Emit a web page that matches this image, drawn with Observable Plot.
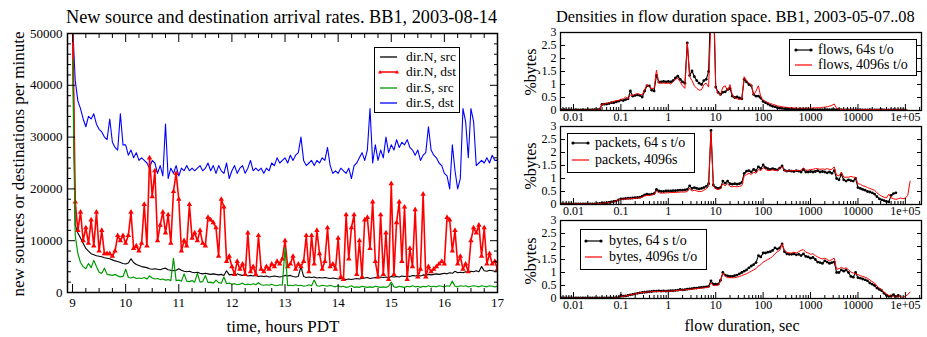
<!DOCTYPE html>
<html><head><meta charset="utf-8">
<script src="https://cdn.jsdelivr.net/npm/d3@7"></script>
<script src="https://cdn.jsdelivr.net/npm/@observablehq/plot@0.6"></script>
<style>
html,body{margin:0;padding:0;background:#fff;}
#root{position:relative;width:927px;height:337px;overflow:hidden;background:#fff;font-family:"Liberation Serif","Times New Roman",serif;color:#000;}
#root svg{position:absolute;left:0;top:0;}
.lbl{position:absolute;white-space:nowrap;line-height:1;}
.legend{position:absolute;border:1.5px solid #000;background:#fff;box-sizing:border-box;}
</style></head><body><div id="root"></div>
<script>
// ---------- Left chart data: samples every 0.05 h from 9.00 to 17.00 ----------
const hourStart = 9, hourStep = 0.05;
const dirNsrc = [
 52000,13000,11500,10500,9500,8500,8000,7500,7300,7100,7000,6900,6700,6600,6500,6300,6100,6000,5800,5600,
 5500,5700,6500,5800,5400,5200,5000,4900,4800,4600,4500,4600,4500,4400,4600,4700,4400,4300,4200,4300,
 4600,4300,4100,4000,4100,3900,3800,3900,3700,3600,3700,3600,3500,3600,3500,3400,3500,3300,4200,3400,
 3500,3300,3600,3400,3300,3400,3200,3300,3200,3300,3100,3200,3100,3200,3000,3100,3200,3100,3000,3100,
 3300,3200,3300,3100,3000,3100,5000,3100,2900,3000,2900,3000,2800,2900,2800,2900,2800,2700,2800,2700,
 2600,2700,2600,2500,2600,2500,2600,2700,2600,2700,2800,2900,2700,2800,2900,2800,3000,2900,3000,2900,
 3100,3000,3100,3000,3200,3100,3200,3100,3300,3200,3300,3200,3400,3300,3500,3400,3500,3600,3500,3600,
 3700,3600,3800,3700,4100,3800,3900,3800,4000,3900,4100,4000,4200,4000,5000,4200,4100,4300,4200,4100,
 4200];
const dirNdst = [
 55000,17500,12000,15500,10000,12500,9500,14000,9000,15500,8000,12000,7500,7500,7500,7000,8000,11000,10000,11000,
 9500,11000,15500,8500,9000,8000,9500,17000,9000,26000,18500,23500,10000,13000,15500,11500,15000,9500,19500,23000,
 18000,8000,10000,9000,17000,10500,11500,10000,12000,9500,9000,14500,14000,13500,12500,7000,18000,16500,6000,7000,
 5000,3500,6000,4500,5500,3500,11500,4000,5000,3500,11000,4500,4000,5000,4500,5500,5000,6000,5500,6500,
 10000,5000,5500,7000,4500,5500,5000,6000,11000,4000,11000,5500,12000,7500,4500,6000,12500,5000,5500,4500,
 10500,3000,2500,15000,6500,12500,15000,3500,10000,3000,14000,14500,8500,17500,6000,3000,15000,3500,11500,2500,
 21000,3500,13500,17500,6000,16500,2500,8500,5000,16000,3000,4500,19000,3000,5000,4000,4500,5000,5500,6000,
 5500,14500,14000,8000,12000,5500,7000,4500,5500,4000,10000,12500,11500,13000,7000,12500,5500,7500,5500,6000,
 4500];
const dirSsrc = [
 45000,11000,7500,5800,5000,4600,5600,4800,6200,5000,3900,3700,4700,3500,3400,3300,3500,3200,3000,3100,
 4500,2900,2800,3000,2700,2800,2700,2900,2600,3200,2800,2600,2700,2500,2600,2400,2500,2300,6600,2300,
 2400,2200,3600,2200,2100,2300,2000,3700,2000,2100,3300,1900,2000,1800,2400,1900,1800,3000,1700,1800,
 1600,1700,1500,1600,1800,1500,1600,1500,1700,1500,1900,1500,1400,1500,1400,1600,1400,1300,1500,1400,
 8600,1300,1400,1300,1500,1300,1400,1200,1300,1500,1300,2400,1300,1200,1400,1300,1200,1400,1200,1100,
 1300,1100,1200,1000,1100,1300,1000,1100,1000,1200,1100,1000,1100,1000,1200,1100,1000,1100,1000,1200,
 2000,1100,1000,1200,1100,1000,1200,1100,1300,1100,1200,1000,1200,1100,1300,1100,1200,1100,1300,1200,
 1100,1300,1200,2200,1200,1100,1300,1200,1300,1100,1200,1300,1200,1100,1300,1200,1100,1300,1200,1100,
 1200];
const dirSdst = [
 52000,41000,37000,35500,33500,32000,34000,33500,34500,32500,31500,31000,30000,29500,33500,29000,28000,27500,34500,28500,
 28500,26500,27500,26000,27000,25500,26000,25500,25000,24000,25500,25000,23000,24500,22500,32500,22000,24000,23000,24500,
 22500,24000,23500,24500,23500,24000,23500,24000,24500,23500,24000,25000,23500,24500,23000,24500,23500,23000,25000,22000,
 23500,24500,23000,24000,24500,23000,24000,25500,23500,24000,23500,24000,23000,24000,23500,25000,24500,26000,25000,25500,
 26000,25000,26500,25500,26500,27000,30000,25500,24500,25000,25500,24500,25500,25000,26000,25500,28000,24500,23000,23500,
 23000,24000,23500,23000,24000,22000,24500,25000,26000,27000,25500,27500,35500,25000,28500,25500,27500,26000,30000,27000,
 28500,27500,29500,28000,29000,28500,29500,28000,27500,26500,27500,25500,26500,27000,32000,27500,26500,26000,25000,24500,
 23000,22500,20000,28500,23500,20000,22000,35500,33000,26000,35500,33000,24500,25000,25500,25000,26000,25000,26500,25500,
 25500];
const hourTicks = [9,10,11,12,13,14,15,16,17];
const rateTicks = [0,10000,20000,30000,40000,50000];
const leftSeries = ["dir.N, src","dir.N, dst","dir.S, src","dir.S, dst"];

// ---------- Right panels: log10(duration) from -2.30 in steps of 0.05 ----------
const logDurStart = -2.3, logDurStep = 0.05;
const flows64 = [
 0.02,0.02,0.03,0.02,0.02,0.02,
 0.02,0.03,0.02,0.02,0.03,0.02,0.03,0.02,0.03,0.03,0.03,0.05,0.23,0.24,0.25,0.27,0.3,0.3,0.33,0.36,
 0.4,0.38,0.42,0.45,0.75,0.55,0.58,0.6,0.58,0.52,0.75,0.95,0.95,0.78,0.75,1.35,1.1,1.1,1.12,1.1,
 1.12,1.1,1.15,1.25,1.32,1.2,1.1,1.05,2.6,1.35,1.52,1.3,1.15,1.05,1.0,1.15,1.2,1.5,4.5,4.5,
 0.9,0.7,0.62,0.7,0.72,0.8,0.85,0.55,0.5,0.52,0.48,0.45,1.2,1.1,1.0,0.95,0.62,0.55,0.55,0.48,
 0.35,0.3,0.25,0.2,0.16,0.14,0.11,0.09,0.08,0.07,0.06,0.05,0.05,0.04,0.04,0.04,0.04,0.04,0.04,0.04,
 0.04,0.04,0.03,0.03,0.03,0.03,0.03,0.03,0.03,0.03,0.03,0.03,0.03,0.03,0.02,0.02,0.02,0.02,0.02,0.02,
 0.02,0.03,0.02,0.02,0.02,0.03,0.02,0.02,0.02,0.02,0.03,0.02,0.02,0.02,0.02,0.03,0.02,0.02,0.02,0.02,
 0.02];
const flows4096 = [
 0.01,0.01,0.01,0.01,0.01,0.01,
 0.01,0.01,0.01,0.01,0.01,0.01,0.01,0.01,0.02,0.02,0.02,0.03,0.23,0.25,0.27,0.3,0.32,0.35,0.38,0.38,
 0.42,0.45,0.52,0.45,0.6,0.58,0.62,0.65,0.62,0.6,0.8,1.0,0.9,0.85,0.85,1.55,1.05,1.05,1.05,1.05,
 1.05,1.02,1.1,1.2,1.25,1.1,0.95,0.85,2.6,1.3,1.15,0.95,0.85,0.78,0.8,1.0,1.05,0.9,3.5,5,
 0.88,0.65,0.6,0.9,0.95,0.75,1.0,0.6,0.48,0.45,0.42,0.45,1.3,1.15,1.05,1.0,0.6,0.75,0.95,0.52,
 0.4,0.35,0.3,0.27,0.24,0.21,0.18,0.16,0.14,0.13,0.12,0.11,0.1,0.1,0.09,0.09,0.09,0.09,0.09,0.09,
 0.09,0.1,0.1,0.11,0.1,0.12,0.13,0.14,0.17,0.2,0.25,0.08,0.05,0.04,0.03,0.03,0.03,0.03,0.03,0.03,
 0.03,0.03,0.03,0.03,0.03,0.03,0.03,0.03,0.03,0.03,0.03,0.03,0.03,0.03,0.03,0.03,0.03,0.03,0.03,0.03,
 0.02,0.02];
const packets64 = [
 0.02,0.02,0.02,0.02,0.02,0.02,
 0.02,0.02,0.02,0.02,0.02,0.02,0.02,0.02,0.02,0.02,0.03,0.04,0.05,0.06,0.07,0.08,0.1,0.12,0.13,0.18,
 0.22,0.22,0.23,0.24,0.24,0.25,0.26,0.27,0.28,0.32,0.37,0.4,0.38,0.4,0.42,0.58,0.52,0.5,0.5,0.52,
 0.52,0.52,0.53,0.53,0.54,0.55,0.55,0.56,0.58,0.72,0.62,0.65,0.62,0.6,0.62,0.65,0.7,0.8,2.85,0.75,
 0.65,0.62,0.65,0.9,0.82,0.9,0.8,0.78,0.8,0.78,0.8,0.85,1.2,1.28,1.3,1.25,1.35,1.3,1.45,1.38,
 1.52,1.42,1.38,1.35,1.38,1.35,1.33,1.4,1.48,1.32,1.28,1.3,1.28,1.27,1.3,1.28,1.25,1.35,1.25,1.25,
 1.27,1.25,1.27,1.3,1.25,1.27,1.25,1.22,1.25,1.2,1.3,1.0,0.95,1.15,0.95,0.9,0.95,0.92,0.9,1.0,
 0.65,0.62,0.58,0.55,0.5,0.48,0.45,0.4,0.3,0.22,0.18,0.15,0.12,0.1,0.35,0.42,0.45];
const packets4096 = [
 0.02,0.02,0.02,0.02,0.02,0.02,
 0.02,0.02,0.02,0.02,0.02,0.02,0.02,0.02,0.02,0.02,0.03,0.04,0.05,0.06,0.07,0.08,0.09,0.11,0.13,0.18,
 0.2,0.2,0.21,0.22,0.22,0.23,0.24,0.25,0.25,0.28,0.33,0.35,0.35,0.37,0.38,0.52,0.45,0.44,0.44,0.45,
 0.45,0.46,0.46,0.46,0.47,0.48,0.48,0.48,0.5,0.62,0.52,0.55,0.52,0.5,0.5,0.55,0.6,0.7,2.8,0.7,
 0.6,0.58,0.6,0.8,0.72,0.8,0.7,0.68,0.7,0.68,0.7,0.72,1.1,1.15,1.2,1.15,1.25,1.2,1.35,1.3,
 1.42,1.35,1.3,1.32,1.33,1.32,1.3,1.38,1.45,1.3,1.28,1.3,1.3,1.3,1.3,1.3,1.32,1.4,1.32,1.32,
 1.35,1.35,1.38,1.38,1.35,1.37,1.35,1.38,1.35,1.35,1.45,1.12,1.1,1.25,1.05,1.05,1.05,1.08,1.05,1.05,
 0.8,0.78,0.72,0.7,0.65,0.62,0.58,0.55,0.45,0.38,0.32,0.28,0.25,0.4,0.25,0.22,0.2,0.22,0.25,0.22,
 0.25,0.35,0.9];
const bytes64 = [
 0.02,0.02,0.02,0.02,0.02,0.02,
 0.02,0.02,0.02,0.02,0.02,0.02,0.02,0.02,0.02,0.02,0.02,0.02,0.02,0.02,0.02,0.02,0.02,0.02,0.03,0.03,
 0.12,0.09,0.1,0.12,0.14,0.16,0.18,0.2,0.22,0.23,0.24,0.25,0.26,0.27,0.28,0.28,0.29,0.28,0.29,0.28,
 0.29,0.3,0.3,0.31,0.32,0.35,0.33,0.34,0.36,0.37,0.38,0.4,0.4,0.42,0.43,0.44,0.45,0.47,0.68,0.55,
 0.55,0.55,0.7,1.0,0.9,0.87,0.85,0.85,0.88,0.9,0.95,1.0,1.05,1.1,1.18,1.25,1.3,1.38,1.65,1.6,
 1.75,1.75,1.78,1.8,1.85,1.95,1.9,1.95,2.1,1.8,1.72,1.7,1.7,1.72,1.68,1.7,1.65,1.72,1.62,1.6,
 1.55,1.58,1.5,1.4,1.38,1.35,1.45,1.4,1.35,1.38,1.4,1.0,1.0,1.1,1.05,1.1,1.0,0.85,0.82,1.0,
 0.8,0.78,0.75,0.72,0.68,0.6,0.55,0.5,0.4,0.35,0.3,0.2,0.12,0.08,0.1,0.15,0.08,0.12];
const bytes4096 = [
 0.01,0.01,0.01,0.01,0.01,0.01,
 0.01,0.01,0.01,0.01,0.01,0.01,0.01,0.01,0.01,0.01,0.01,0.01,0.01,0.01,0.01,0.01,0.01,0.01,0.02,0.03,
 0.1,0.08,0.1,0.12,0.14,0.16,0.18,0.2,0.22,0.23,0.24,0.25,0.25,0.26,0.27,0.27,0.27,0.27,0.28,0.28,
 0.28,0.29,0.29,0.3,0.31,0.33,0.32,0.33,0.34,0.35,0.36,0.37,0.38,0.39,0.4,0.41,0.42,0.44,0.6,0.5,
 0.5,0.52,0.65,0.98,0.85,0.8,0.8,0.8,0.8,0.82,0.85,0.88,0.92,0.95,1.0,1.05,1.1,1.15,1.25,1.3,
 1.4,1.45,1.5,1.55,1.62,1.72,1.8,1.85,2.1,1.85,1.78,1.75,1.75,1.78,1.75,1.8,1.85,1.88,1.78,1.75,
 1.7,1.72,1.65,1.6,1.55,1.52,1.55,1.5,1.45,1.5,1.55,1.12,1.15,1.2,1.15,1.18,1.1,1.02,0.98,0.95,
 0.92,0.88,0.85,0.82,0.78,0.72,0.65,0.6,0.48,0.4,0.35,0.25,0.18,0.12,0.1,0.08,0.1,0.1,0.06,0.05,
 0.08,0.15,0.25];
const durTicks = [0.01,0.1,1,10,100,1000,10000,100000];
const durTickLabels = ["0.01","0.1","1","10","100","1000","10000","1e+05"];
const densTicks = [0,0.5,1,1.5,2,2.5,3];
const densTickLabels = ["0","0.5","1","1.5","2","2.5","3"];

// ---------- build ----------
const root = document.getElementById("root");
const SERIF = '"Liberation Serif","Times New Roman",serif';

const leftRows = dirNsrc.map((v, i) => ({
  t: hourStart + i * hourStep, nsrc: v, ndst: dirNdst[i], ssrc: dirSsrc[i], sdst: dirSdst[i]
}));
const hourMinor = d3.range(9, 17.001, 0.25).filter(h => Math.abs(h - Math.round(h)) > 1e-6);
const rateMinor = d3.range(0, 50001, 2000).filter(v => v % 10000 !== 0);

const leftPlot = Plot.plot({
  width: 505, height: 337,
  marginLeft: 67, marginRight: 8, marginTop: 33, marginBottom: 45,
  style: {background: "none", overflow: "visible", fontFamily: SERIF, fontSize: "13px", color: "#000"},
  x: {domain: [8.905, 17], label: null},
  y: {domain: [0, 50000], label: null},
  marks: [
    Plot.line(leftRows, {x: "t", y: "sdst", stroke: "#0000ff", strokeWidth: 1.1, clip: true}),
    Plot.line(leftRows, {x: "t", y: "nsrc", stroke: "#000000", strokeWidth: 1.1, clip: true}),
    Plot.line(leftRows, {x: "t", y: "ndst", stroke: "#ff0000", strokeWidth: 1.6, clip: true}),
    Plot.dot(leftRows, {x: "t", y: "ndst", symbol: "triangle", r: 2, fill: "#ff0000", clip: true}),
    Plot.line(leftRows, {x: "t", y: "ssrc", stroke: "#009a00", strokeWidth: 1.2, clip: true}),
    Plot.frame({stroke: "#000", strokeWidth: 1.5}),
    Plot.axisX(hourTicks, {anchor: "bottom", tickSize: 0, tickPadding: 5, fontSize: 13, tickFormat: d => String(d), label: null}),
    Plot.axisX(hourTicks, {anchor: "bottom", tickSize: -8, fill: "none", label: null}),
    Plot.axisX(hourMinor, {anchor: "bottom", tickSize: -4, fill: "none", label: null}),
    Plot.axisX(hourTicks, {anchor: "top", tickSize: -8, fill: "none", label: null}),
    Plot.axisX(hourMinor, {anchor: "top", tickSize: -4, fill: "none", label: null}),
    Plot.axisY(rateTicks, {anchor: "left", tickSize: 0, tickPadding: 5, fontSize: 13, tickFormat: d => String(d), label: null}),
    Plot.axisY(rateTicks, {anchor: "left", tickSize: -8, fill: "none", label: null}),
    Plot.axisY(rateMinor, {anchor: "left", tickSize: -4, fill: "none", label: null}),
    Plot.axisY(rateTicks, {anchor: "right", tickSize: -8, fill: "none", label: null}),
    Plot.axisY(rateMinor, {anchor: "right", tickSize: -4, fill: "none", label: null})
  ]
});
root.appendChild(leftPlot);

const durMinor = [];
for (let k = -3; k <= 5; k++) for (let m = 2; m <= 9; m++) {
  const v = m * Math.pow(10, k);
  if (v > 0.0053 && v < 2.1e5) durMinor.push(v);
}
const durDomain = [Math.pow(10, -2.274), Math.pow(10, 5.34)];

function densityPanel(black, red, marginTop, height) {
  const toRows = arr => arr.map((v, i) => ({d: Math.pow(10, logDurStart + i * logDurStep), v}));
  const r64 = toRows(black), r4096 = toRows(red);
  return Plot.plot({
    width: 427, height,
    marginLeft: 60, marginRight: 6, marginTop, marginBottom: height - marginTop - 78,
    style: {background: "none", overflow: "visible", fontFamily: SERIF, fontSize: "12px", color: "#000"},
    x: {type: "log", domain: durDomain, label: null},
    y: {domain: [0, 3], label: null},
    marks: [
      Plot.line(r64, {x: "d", y: "v", stroke: "#000", strokeWidth: 1.1, clip: true}),
      Plot.dot(r64, {x: "d", y: "v", r: 1.4, fill: "#000", clip: true}),
      Plot.line(r4096, {x: "d", y: "v", stroke: "#ff0000", strokeWidth: 1, clip: true}),
      Plot.frame({stroke: "#000", strokeWidth: 1.3}),
      Plot.axisX(durTicks, {anchor: "bottom", tickSize: 0, tickPadding: 2, fontSize: 12, tickFormat: d => durTickLabels[durTicks.indexOf(d)], label: null}),
      Plot.axisX(durTicks, {anchor: "bottom", tickSize: -6, fill: "none", label: null}),
      Plot.axisX(durMinor, {anchor: "bottom", tickSize: -3, fill: "none", label: null}),
      Plot.axisY(densTicks, {anchor: "left", tickSize: 0, tickPadding: 4, fontSize: 12, tickFormat: d => densTickLabels[densTicks.indexOf(d)], label: null}),
      Plot.axisY(densTicks, {anchor: "left", tickSize: -5, fill: "none", label: null}),
      Plot.axisY(densTicks, {anchor: "right", tickSize: -5, fill: "none", label: null})
    ]
  });
}
const p1 = densityPanel(flows64, flows4096, 32, 130);
const p2 = densityPanel(packets64, packets4096, 126, 230);
const p3 = densityPanel(bytes64, bytes4096, 220, 337);
[p1, p2, p3].forEach(p => { p.style.left = "500px"; root.appendChild(p); });

// ---------- text ----------
function label(text, x, y, size, opts = {}) {
  const d = document.createElement("div");
  d.className = "lbl";
  d.textContent = text;
  d.style.left = x + "px";
  d.style.top = y + "px";
  d.style.fontSize = size + "px";
  let tr = opts.center ? "translate(-50%,-50%)" : "translate(0,-50%)";
  if (opts.rotate) tr += " rotate(-90deg)";
  d.style.transform = tr;
  root.appendChild(d);
  return d;
}
label("New source and destination arrival rates. BB1, 2003-08-14", 66, 17, 18.3);
label("time, hours PDT", 283, 326, 17, {center: true});
label("new sources or destinations per minute", 18, 164, 17, {center: true, rotate: true});
label("Densities in flow duration space. BB1, 2003-05-07..08", 556, 17, 16.4);
label("flow duration, sec", 742, 326, 16, {center: true});
label("%bytes", 531, 72, 16, {center: true, rotate: true});
label("%bytes", 531, 166, 16, {center: true, rotate: true});
label("%bytes", 531, 261, 16, {center: true, rotate: true});

// ---------- legends ----------
function sample(kind, color, w, sw) {
  let s = `<svg width="${w}" height="10" style="position:absolute;overflow:visible"><line x1="0" y1="5" x2="${w}" y2="5" stroke="${color}" stroke-width="${sw}"/>`;
  if (kind === "dot") s += `<circle cx="1" cy="5" r="1.6" fill="${color}"/><circle cx="${w - 1}" cy="5" r="1.6" fill="${color}"/>`;
  if (kind === "tri") s += `<path d="M-2,6.5L0,3L2,6.5Z" fill="${color}"/><path d="M${w - 2},6.5L${w},3L${w + 2},6.5Z" fill="${color}"/>`;
  return s + "</svg>";
}
function legend(box, sx, sw, tx, size, rows) {
  const b = document.createElement("div");
  b.className = "legend";
  Object.assign(b.style, {left: box[0] + "px", top: box[1] + "px", width: (box[2] - box[0]) + "px", height: (box[3] - box[1]) + "px"});
  root.appendChild(b);
  rows.forEach(r => {
    const h = document.createElement("div");
    h.style.position = "absolute";
    h.style.left = sx + "px";
    h.style.top = (r.y - 5) + "px";
    h.innerHTML = sample(r.kind, r.color, sw, r.sw);
    root.appendChild(h);
    label(r.text, tx, r.y, size);
  });
}
legend([374, 47, 460, 113], 380, 17, 406, 13.5, [
  {y: 57, text: leftSeries[0], color: "#000", kind: "line", sw: 1.3},
  {y: 72, text: leftSeries[1], color: "#ff0000", kind: "tri", sw: 1.5},
  {y: 88, text: leftSeries[2], color: "#009a00", kind: "line", sw: 1.3},
  {y: 103, text: leftSeries[3], color: "#0000ff", kind: "line", sw: 1.3}
]);
legend([789, 39, 917, 76], 795, 17, 818, 14, [
  {y: 50, text: "flows, 64s t/o", color: "#000", kind: "dot", sw: 1.2},
  {y: 65, text: "flows, 4096s t/o", color: "#ff0000", kind: "line", sw: 1.2}
]);
legend([567, 133, 695, 173], 572, 17, 595, 14, [
  {y: 143, text: "packets, 64 s t/o", color: "#000", kind: "dot", sw: 1.2},
  {y: 160, text: "packets, 4096s", color: "#ff0000", kind: "line", sw: 1.2}
]);
legend([580, 229, 707, 270], 585, 17, 609, 14, [
  {y: 241, text: "bytes, 64 s t/o", color: "#000", kind: "dot", sw: 1.2},
  {y: 257, text: "bytes, 4096s t/o", color: "#ff0000", kind: "line", sw: 1.2}
]);
</script></body></html>
